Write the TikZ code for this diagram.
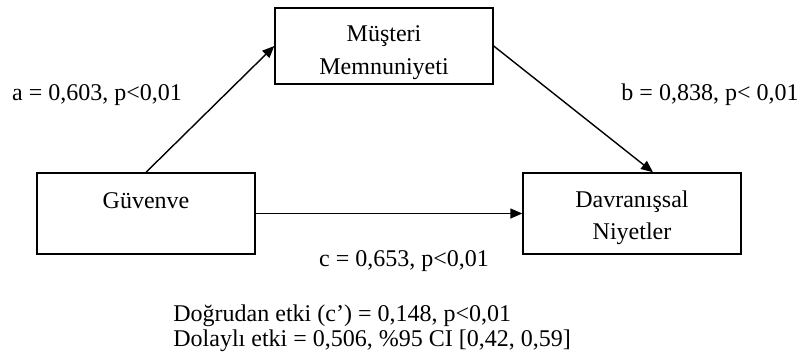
\documentclass[tikz,border=0pt]{standalone}
\usepackage{fontspec}
\setmainfont{Liberation Serif}
\usetikzlibrary{arrows.meta,calc}
\begin{document}
\begin{tikzpicture}[x=0.5pt,y=-0.5pt,
  every node/.style={font=\fontsize{12}{14.5}\selectfont},
  varbox/.style={draw=black,line width=0.7pt,minimum width=109pt,minimum height=38pt,align=center,inner sep=0pt},
  conn/.style={draw=black,line width=0.7pt,-{Triangle[length=6pt,width=5pt]}},
  lbl/.style={inner sep=0pt}]
\useasboundingbox (0,0) rectangle (800,360);
\node[varbox] (m) at (384,46) {\rule{0pt}{14.8pt}Müşteri\\[2pt]Memnuniyeti};
\node[varbox,minimum height=40.5pt,text height=9pt,text depth=13.8pt] (g) at (146,213.5) {Güvenve};
\node[varbox,minimum height=40.5pt] (d) at (632,213.5) {\rule{0pt}{12.5pt}Davranışsal\\[1.5pt]Niyetler};
\coordinate (dn) at ($(d.north west)!0.596!(d.north east)$);
\draw[conn] (g.north) -- (m.west);
\draw[conn] (m.east) -- (dn);
\draw[conn] (g.east) -- (d.west);
\node[lbl] (la) at (97,95) {a = 0,603, p<0,01};
\node[lbl] (lb) at (710,95) {b = 0,838, p< 0,01};
\node[lbl] (lc) at (404,261) {c = 0,653, p<0,01};
\node[lbl,anchor=west,align=left,font=\fontsize{12}{12.5}\selectfont] (eff) at (173,328.5) {Doğrudan etki (c’) = 0,148, p<0,01\\Dolaylı etki = 0,506, \%95 CI [0,42, 0,59]};
\end{tikzpicture}
\end{document}
